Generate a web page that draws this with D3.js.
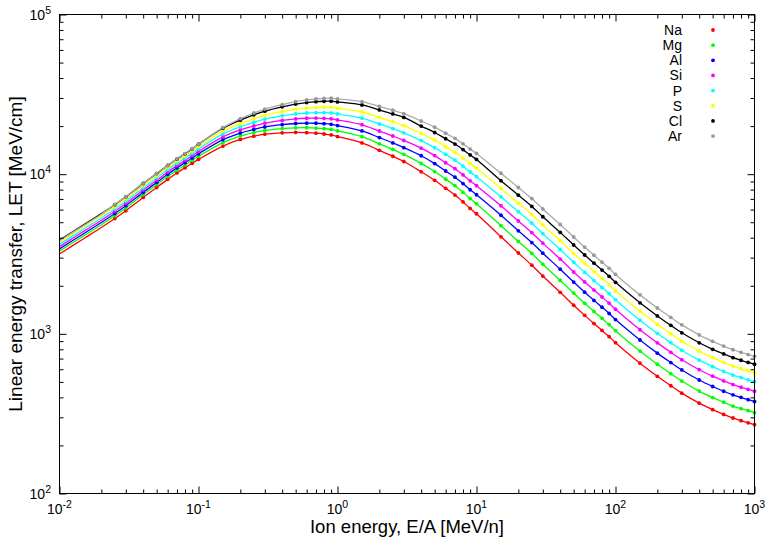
<!DOCTYPE html>
<html>
<head>
<meta charset="utf-8">
<script src="https://cdn.jsdelivr.net/npm/d3@7"></script>
<style>
  body { margin: 0; background: #fff; }
  svg text { font-family: "Liberation Sans", Arial, Helvetica, sans-serif; fill: #000; }
</style>
</head>
<body>
<svg id="chart" width="781" height="547"></svg>
<script>
"use strict";

// ion energy of the data points, E/A [MeV/n]
var energies = [0.025, 0.03, 0.04, 0.05, 0.06, 0.07, 0.08, 0.09, 0.1,
  0.15, 0.2, 0.25, 0.3, 0.4, 0.5, 0.6, 0.7, 0.8, 0.9, 1,
  1.5, 2, 2.5, 3, 4, 5, 6, 7, 8, 9, 10,
  15, 20, 25, 30, 40, 50, 60, 70, 80, 90, 100,
  150, 200, 250, 300, 400, 500, 600, 700, 800, 900, 1000];

// LET [MeV/cm] at those energies, one list per ion
var let_na = [5270, 5900, 7150, 8250, 9280, 10180, 10970, 11700, 12380, 15000, 16500, 17300, 17800, 18150, 18250, 18200, 18050, 17850, 17600, 17200, 15700, 14100, 12950, 12000, 10350, 9150, 8150, 7400, 6700, 6100, 5650, 4050, 3210, 2690, 2300, 1820, 1510, 1305, 1160, 1050, 960, 880, 655, 542, 473, 425, 368, 335, 313, 297, 286, 277, 270];
var let_mg = [5490, 6140, 7450, 8590, 9660, 10600, 11420, 12200, 12940, 15770, 17310, 18190, 18790, 19290, 19510, 19540, 19440, 19280, 19060, 18660, 17160, 15500, 14300, 13310, 11680, 10380, 9290, 8470, 7690, 7030, 6520, 4760, 3790, 3190, 2730, 2160, 1800, 1553, 1381, 1250, 1142, 1047, 780, 645, 563, 506, 438, 399, 373, 353, 340, 330, 321];
var let_al = [5670, 6350, 7690, 8880, 9980, 10950, 11800, 12620, 13410, 16460, 18100, 19060, 19770, 20430, 20760, 20870, 20840, 20720, 20520, 20140, 18650, 16940, 15700, 14660, 13040, 11650, 10470, 9570, 8730, 7990, 7430, 5530, 4420, 3730, 3200, 2540, 2110, 1823, 1620, 1467, 1341, 1229, 915, 757, 661, 594, 514, 468, 437, 415, 400, 387, 377];
var let_si = [5860, 6560, 7950, 9170, 10310, 11310, 12190, 13050, 13890, 17120, 18940, 20040, 20870, 21720, 22190, 22400, 22440, 22380, 22220, 21850, 20390, 18630, 17340, 16260, 14550, 13070, 11790, 10820, 9890, 9090, 8470, 6340, 5090, 4300, 3700, 2940, 2440, 2114, 1879, 1701, 1555, 1425, 1061, 878, 766, 688, 596, 543, 507, 481, 463, 449, 437];
var let_p = [6050, 6770, 8210, 9470, 10650, 11680, 12590, 13490, 14390, 17870, 19810, 21140, 22110, 23180, 23830, 24160, 24290, 24290, 24180, 23830, 22420, 20620, 19280, 18160, 16240, 14660, 13290, 12230, 11220, 10330, 9650, 7210, 5820, 4930, 4240, 3370, 2810, 2427, 2157, 1953, 1785, 1636, 1218, 1008, 880, 790, 684, 623, 582, 552, 532, 515, 502];
var let_s = [6250, 6990, 8480, 9780, 11000, 12070, 13010, 13950, 14900, 18590, 20710, 22220, 23350, 24640, 25470, 25930, 26170, 26240, 26180, 25850, 24510, 22670, 21300, 20150, 17990, 16330, 14850, 13720, 12620, 11650, 10900, 8130, 6580, 5580, 4810, 3830, 3190, 2761, 2454, 2222, 2031, 1862, 1386, 1147, 1001, 899, 779, 709, 662, 628, 605, 586, 571];
var let_cl = [6440, 7210, 8740, 10080, 11340, 12440, 13410, 14400, 15410, 19390, 21800, 23520, 24820, 26410, 27470, 28100, 28460, 28630, 28650, 28360, 27120, 25250, 23840, 22660, 20010, 18240, 16660, 15440, 14250, 13190, 12370, 9100, 7390, 6280, 5410, 4320, 3600, 3117, 2771, 2508, 2293, 2102, 1564, 1295, 1130, 1015, 879, 800, 748, 709, 683, 662, 645];
var let_ar = [6450, 7230, 8760, 10100, 11360, 12470, 13430, 14430, 15440, 19550, 22260, 24160, 25550, 27280, 28460, 29180, 29610, 29830, 29890, 29620, 28440, 26560, 25140, 23940, 21530, 19700, 18040, 16760, 15490, 14370, 13490, 10130, 8250, 7030, 6060, 4840, 4040, 3494, 3106, 2812, 2571, 2356, 1754, 1451, 1267, 1138, 985, 897, 838, 795, 766, 742, 723];

// the fitted curves start below the first data point
var fit_energies = [0.01, 0.015, 0.02];
var fit_na = [3165, 3955, 4633];
var fit_mg = [3296, 4119, 4825];
var fit_al = [3405, 4254, 4984];
var fit_si = [3517, 4395, 5148];
var fit_p = [3632, 4539, 5317];
var fit_s = [3752, 4689, 5492];
var fit_cl = [3868, 4833, 5662];
var fit_ar = [3830, 4790, 5610];

var ions = ['Na', 'Mg', 'Al', 'Si', 'P', 'S', 'Cl', 'Ar'];

var x_decades = [-2, -1, 0, 1, 2, 3];
var y_decades = [2, 3, 4, 5];

var x_title = 'Ion energy, E/A [MeV/n]';
var y_title = 'Linear energy transfer, LET [MeV/cm]';

function draw() {
  var d3 = window.d3;
  var svg = d3.select('#chart');

  var lets = [let_na, let_mg, let_al, let_si, let_p, let_s, let_cl, let_ar];
  var fits = [fit_na, fit_mg, fit_al, fit_si, fit_p, fit_s, fit_cl, fit_ar];
  var line_colors = ['#ff0000', '#00ff00', '#0000ff', '#ff00ff', '#00ffff', '#ffff00', '#000000', '#aaaaaa'];
  var dot_colors = ['#ff0000', '#00ff00', '#0000ff', '#ff00ff', '#00ffff', '#ffff00', '#000000', '#999999'];

  const box = {left: 59.5, right: 754.5, top: 14.5, bottom: 493.5};

  var x = d3.scaleLog().domain([0.01, 1000]).range([box.left, box.right]);
  var y = d3.scaleLog().domain([100, 1e5]).range([box.bottom, box.top]);

  // curves first, then the points on top
  var line = d3.line()
    .x(d => x(d[0]))
    .y(d => y(d[1]))
    .curve(d3.curveCatmullRom.alpha(0.5));

  var curves = svg.append('g');
  ions.forEach((ion, i) => {
    var pts = fit_energies.map((e, j) => [e, fits[i][j]])
      .concat(energies.map((e, j) => [e, lets[i][j]]));
    curves.append('path')
      .attr('d', line(pts))
      .attr('fill', 'none')
      .attr('stroke', line_colors[i])
      .attr('stroke-width', 1.3);
  });

  var dots = svg.append('g');
  ions.forEach((ion, i) => {
    dots.append('g').selectAll('circle')
      .data(energies.map((e, j) => [e, lets[i][j]]))
      .enter().append('circle')
        .attr('cx', d => x(d[0]))
        .attr('cy', d => y(d[1]))
        .attr('r', 1.9)
        .attr('fill', dot_colors[i]);
  });

  // frame
  svg.append('rect')
    .attr('x', box.left).attr('y', box.top)
    .attr('width', box.right - box.left).attr('height', box.bottom - box.top)
    .attr('fill', 'none').attr('stroke', '#000').attr('stroke-width', 1);

  // ticks, mirrored on all four sides, pointing inwards
  var x_major = x_decades.map(p => Math.pow(10, p));
  var y_major = y_decades.map(p => Math.pow(10, p));
  var minors = function(major) {
    var out = [];
    major.slice(0, -1).forEach(m => {
      for (var k = 2; k < 10; k++) out.push(m * k);
    });
    return out;
  };

  function ticks(axis, values, size, transform) {
    var g = svg.append('g')
      .attr('transform', transform)
      .style('color', '#000')
      .call(axis.tickValues(values).tickSize(size).tickFormat(''));
    g.select('.domain').remove();
  }
  ticks(d3.axisBottom(x), x_major, -7, 'translate(0,' + box.bottom + ')');
  ticks(d3.axisBottom(x), minors(x_major), -4, 'translate(0,' + box.bottom + ')');
  ticks(d3.axisTop(x), x_major, -7, 'translate(0,' + box.top + ')');
  ticks(d3.axisTop(x), minors(x_major), -4, 'translate(0,' + box.top + ')');
  ticks(d3.axisLeft(y), y_major, -7, 'translate(' + box.left + ',0)');
  ticks(d3.axisLeft(y), minors(y_major), -4, 'translate(' + box.left + ',0)');
  ticks(d3.axisRight(y), y_major, -7, 'translate(' + box.right + ',0)');
  ticks(d3.axisRight(y), minors(y_major), -4, 'translate(' + box.right + ',0)');

  // tick labels as powers of ten
  function power_label(t, p) {
    t.append('tspan').text('10');
    t.append('tspan').attr('dy', -6).attr('font-size', 10.5).text(p);
  }
  x_decades.forEach(p => {
    var t = svg.append('text')
      .attr('x', x(Math.pow(10, p)))
      .attr('y', 514)
      .attr('text-anchor', 'middle')
      .attr('font-size', 14);
    power_label(t, p);
  });
  y_decades.forEach(p => {
    var t = svg.append('text')
      .attr('x', 51)
      .attr('y', y(Math.pow(10, p)) + 5)
      .attr('text-anchor', 'end')
      .attr('font-size', 14);
    power_label(t, p);
  });

  // axis titles
  svg.append('text')
    .attr('x', (box.left + box.right) / 2)
    .attr('y', 533)
    .attr('text-anchor', 'middle')
    .attr('font-size', 18.5)
    .text(x_title);
  svg.append('text')
    .attr('transform', 'translate(22,' + (box.top + box.bottom) / 2 + ') rotate(-90)')
    .attr('text-anchor', 'middle')
    .attr('font-size', 19)
    .text(y_title);

  // key
  var key = svg.append('g');
  ions.forEach((ion, i) => {
    key.append('text')
      .attr('x', 682)
      .attr('y', 35 + i * 15.15)
      .attr('text-anchor', 'end')
      .attr('font-size', 14)
      .text(ion);
    key.append('circle')
      .attr('cx', 713)
      .attr('cy', 30 + i * 15.15)
      .attr('r', 1.9)
      .attr('fill', dot_colors[i]);
  });
}

draw();
</script>
</body>
</html>
